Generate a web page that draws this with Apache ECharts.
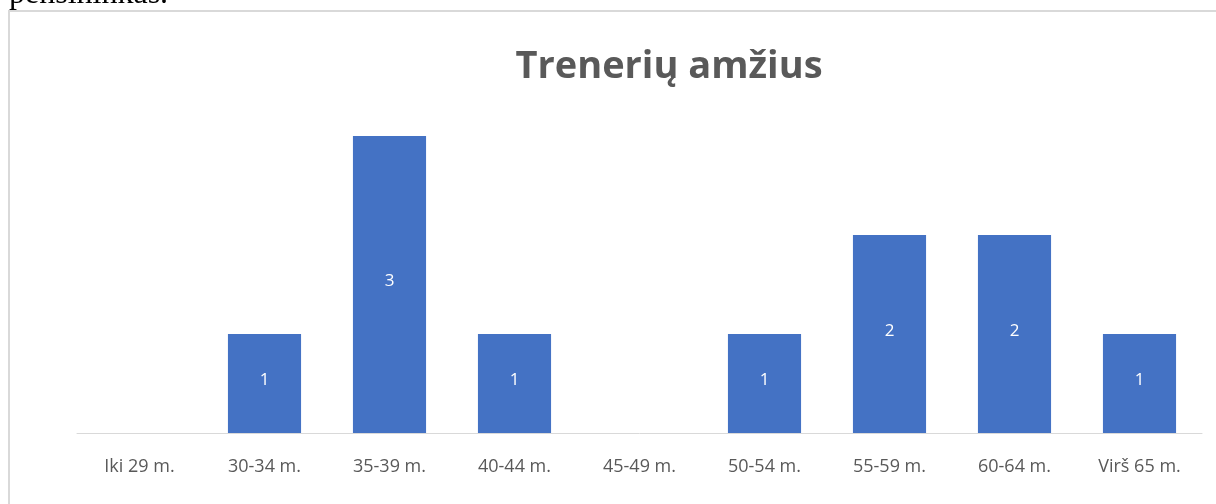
<!DOCTYPE html>
<html>
<head>
<meta charset="utf-8">
<script src="https://cdn.jsdelivr.net/npm/echarts@6/dist/echarts.min.js"></script>
<style>
html,body{margin:0;padding:0;background:#fff;}
#chart{width:1216px;height:504px;}
</style>
</head>
<body>
<div id="chart"></div>
<script>
const categories = ['Iki 29 m.', '30-34 m.', '35-39 m.', '40-44 m.', '45-49 m.', '50-54 m.', '55-59 m.', '60-64 m.', 'Virš 65 m.'];
const values = [0, 1, 3, 1, 0, 1, 2, 2, 1];
const chartTitle = 'Trenerių amžius';
const pageText = 'pensininkas.';

const chart = echarts.init(document.getElementById('chart'));
chart.setOption({
  animation: false,
  backgroundColor: '#fff',
  title: {
    text: chartTitle,
    left: 664,
    top: 43,
    textAlign: 'center',
    textStyle: { fontFamily: 'Open Sans', fontWeight: 'bold', fontSize: 38, color: '#595959' }
  },
  graphic: [
    { type: 'rect', shape: { x: 9, y: 11, width: 1400, height: 700 }, style: { fill: '#fff', stroke: '#d9d9d9', lineWidth: 2 }, z: -10, silent: true },
    { type: 'text', left: 9, top: -21, style: { text: pageText, font: '32px "Liberation Serif"', fill: '#000' }, z: 10 }
  ],
  grid: { left: 77, right: 14, top: 136, bottom: 71, containLabel: false },
  xAxis: {
    type: 'category',
    data: categories,
    axisLine: { lineStyle: { color: '#d9d9d9', width: 1 } },
    axisTick: { show: false },
    axisLabel: { color: '#595959', fontSize: 18, fontFamily: 'Open Sans', margin: 25 }
  },
  yAxis: {
    type: 'value', min: 0, max: 3, interval: 1,
    show: false
  },
  series: [{
    type: 'bar',
    data: values.map(v => v === 0 ? null : v),
    barWidth: '58.5%',
    itemStyle: { color: '#4472C4' },
    label: { show: true, position: 'inside', color: '#fff', fontSize: 17, fontFamily: 'Open Sans', offset: [0, -3] }
  }]
});
</script>
</body>
</html>
